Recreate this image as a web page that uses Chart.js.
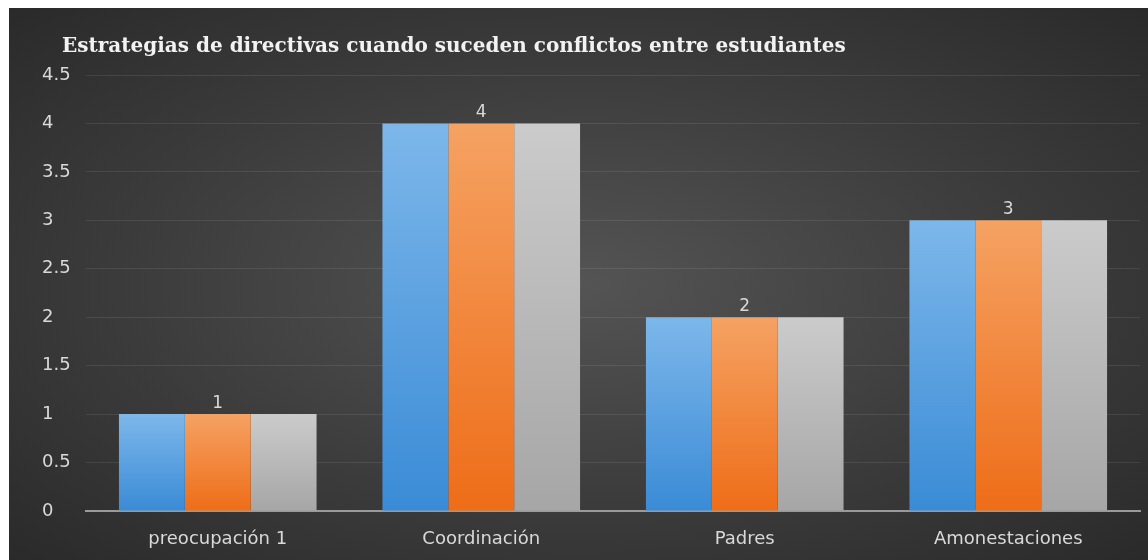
<!DOCTYPE html>
<html>
<head>
<meta charset="utf-8">
<script src="https://cdn.jsdelivr.net/npm/chart.js@4.4.0/dist/chart.umd.min.js"></script>
<style>
  html, body { margin: 0; padding: 0; background: #fff; }
  #wrap {
    position: absolute; left: 9px; top: 8px; width: 1139px; height: 552px;
    background: radial-gradient(ellipse at 50% 50%, #545454 0%, #3c3c3c 55%, #2a2a2a 100%);
  }
</style>
</head>
<body>
<div id="wrap"><canvas id="chart"></canvas></div>
<script>
// chart data
const categories = ['preocupación 1', 'Coordinación', 'Padres', 'Amonestaciones'];
const serie1 = [1, 4, 2, 3];
const serie2 = [1, 4, 2, 3];
const serie3 = [1, 4, 2, 3];
const titleText = 'Estrategias de directivas cuando suceden conflictos entre estudiantes';

const axisFont = { family: '"DejaVu Sans", sans-serif', size: 18 };

// vertical gradient per bar, light at the top
function barGradient(top, bottom) {
  return (context) => {
    const chart = context.chart;
    const { ctx, chartArea, scales } = chart;
    if (!chartArea || !scales.y || context.parsed == null) return bottom;
    const yTop = scales.y.getPixelForValue(context.parsed.y);
    const yBot = scales.y.getPixelForValue(0);
    const g = ctx.createLinearGradient(0, yTop, 0, yBot);
    g.addColorStop(0, top);
    g.addColorStop(1, bottom);
    return g;
  };
}

// title drawn by hand so it can sit right of the tick labels
const titleDraw = {
  id: 'titleDraw',
  afterDraw(chart) {
    const { ctx } = chart;
    ctx.save();
    ctx.fillStyle = '#f2f2f2';
    ctx.font = 'bold 20px "DejaVu Serif", serif';
    ctx.textAlign = 'left';
    ctx.textBaseline = 'alphabetic';
    ctx.fillText(titleText, 53, 44);
    ctx.restore();
  }
};

// value labels over the middle series only
const valueLabels = {
  id: 'valueLabels',
  afterDatasetsDraw(chart) {
    const { ctx } = chart;
    const meta = chart.getDatasetMeta(1);
    ctx.save();
    ctx.fillStyle = '#d9d9d9';
    ctx.font = '17px "DejaVu Sans", sans-serif';
    ctx.textAlign = 'center';
    ctx.textBaseline = 'bottom';
    meta.data.forEach((bar, i) => {
      ctx.fillText(String(serie2[i]), bar.x, bar.y - 2);
    });
    ctx.restore();
  }
};

const ctx = document.getElementById('chart').getContext('2d');

new Chart(ctx, {
  type: 'bar',
  data: {
    labels: categories,
    datasets: [
      { label: 'Serie 1', data: serie1, backgroundColor: barGradient('#7db7ea', '#3a8bd6') },
      { label: 'Serie 2', data: serie2, backgroundColor: barGradient('#f5a263', '#ee6d18') },
      { label: 'Serie 3', data: serie3, backgroundColor: barGradient('#cbcbcb', '#a6a6a6') }
    ]
  },
  options: {
    responsive: true,
    maintainAspectRatio: false,
    animation: false,
    datasets: { bar: { categoryPercentage: 0.75, barPercentage: 1.0 } },
    layout: { padding: { top: 67, left: 33, right: 8, bottom: 0 } },
    plugins: {
      legend: { display: false },
      tooltip: { enabled: false },
      title: { display: false }
    },
    scales: {
      x: {
        grid: { display: false },
        border: { color: '#9a9a9a', width: 2 },
        ticks: { color: '#d9d9d9', padding: 10, font: axisFont },
        afterFit: (scale) => { scale.height = 49; }
      },
      y: {
        min: 0,
        max: 4.5,
        grid: { color: 'rgba(255,255,255,0.09)', lineWidth: 1, drawTicks: false },
        border: { display: false },
        ticks: {
          stepSize: 0.5,
          color: '#d9d9d9',
          crossAlign: 'far',
          font: axisFont,
          callback: (v) => String(v)
        },
        afterFit: (scale) => { scale.width = 44; }
      }
    }
  },
  plugins: [valueLabels, titleDraw]
});
</script>
</body>
</html>
